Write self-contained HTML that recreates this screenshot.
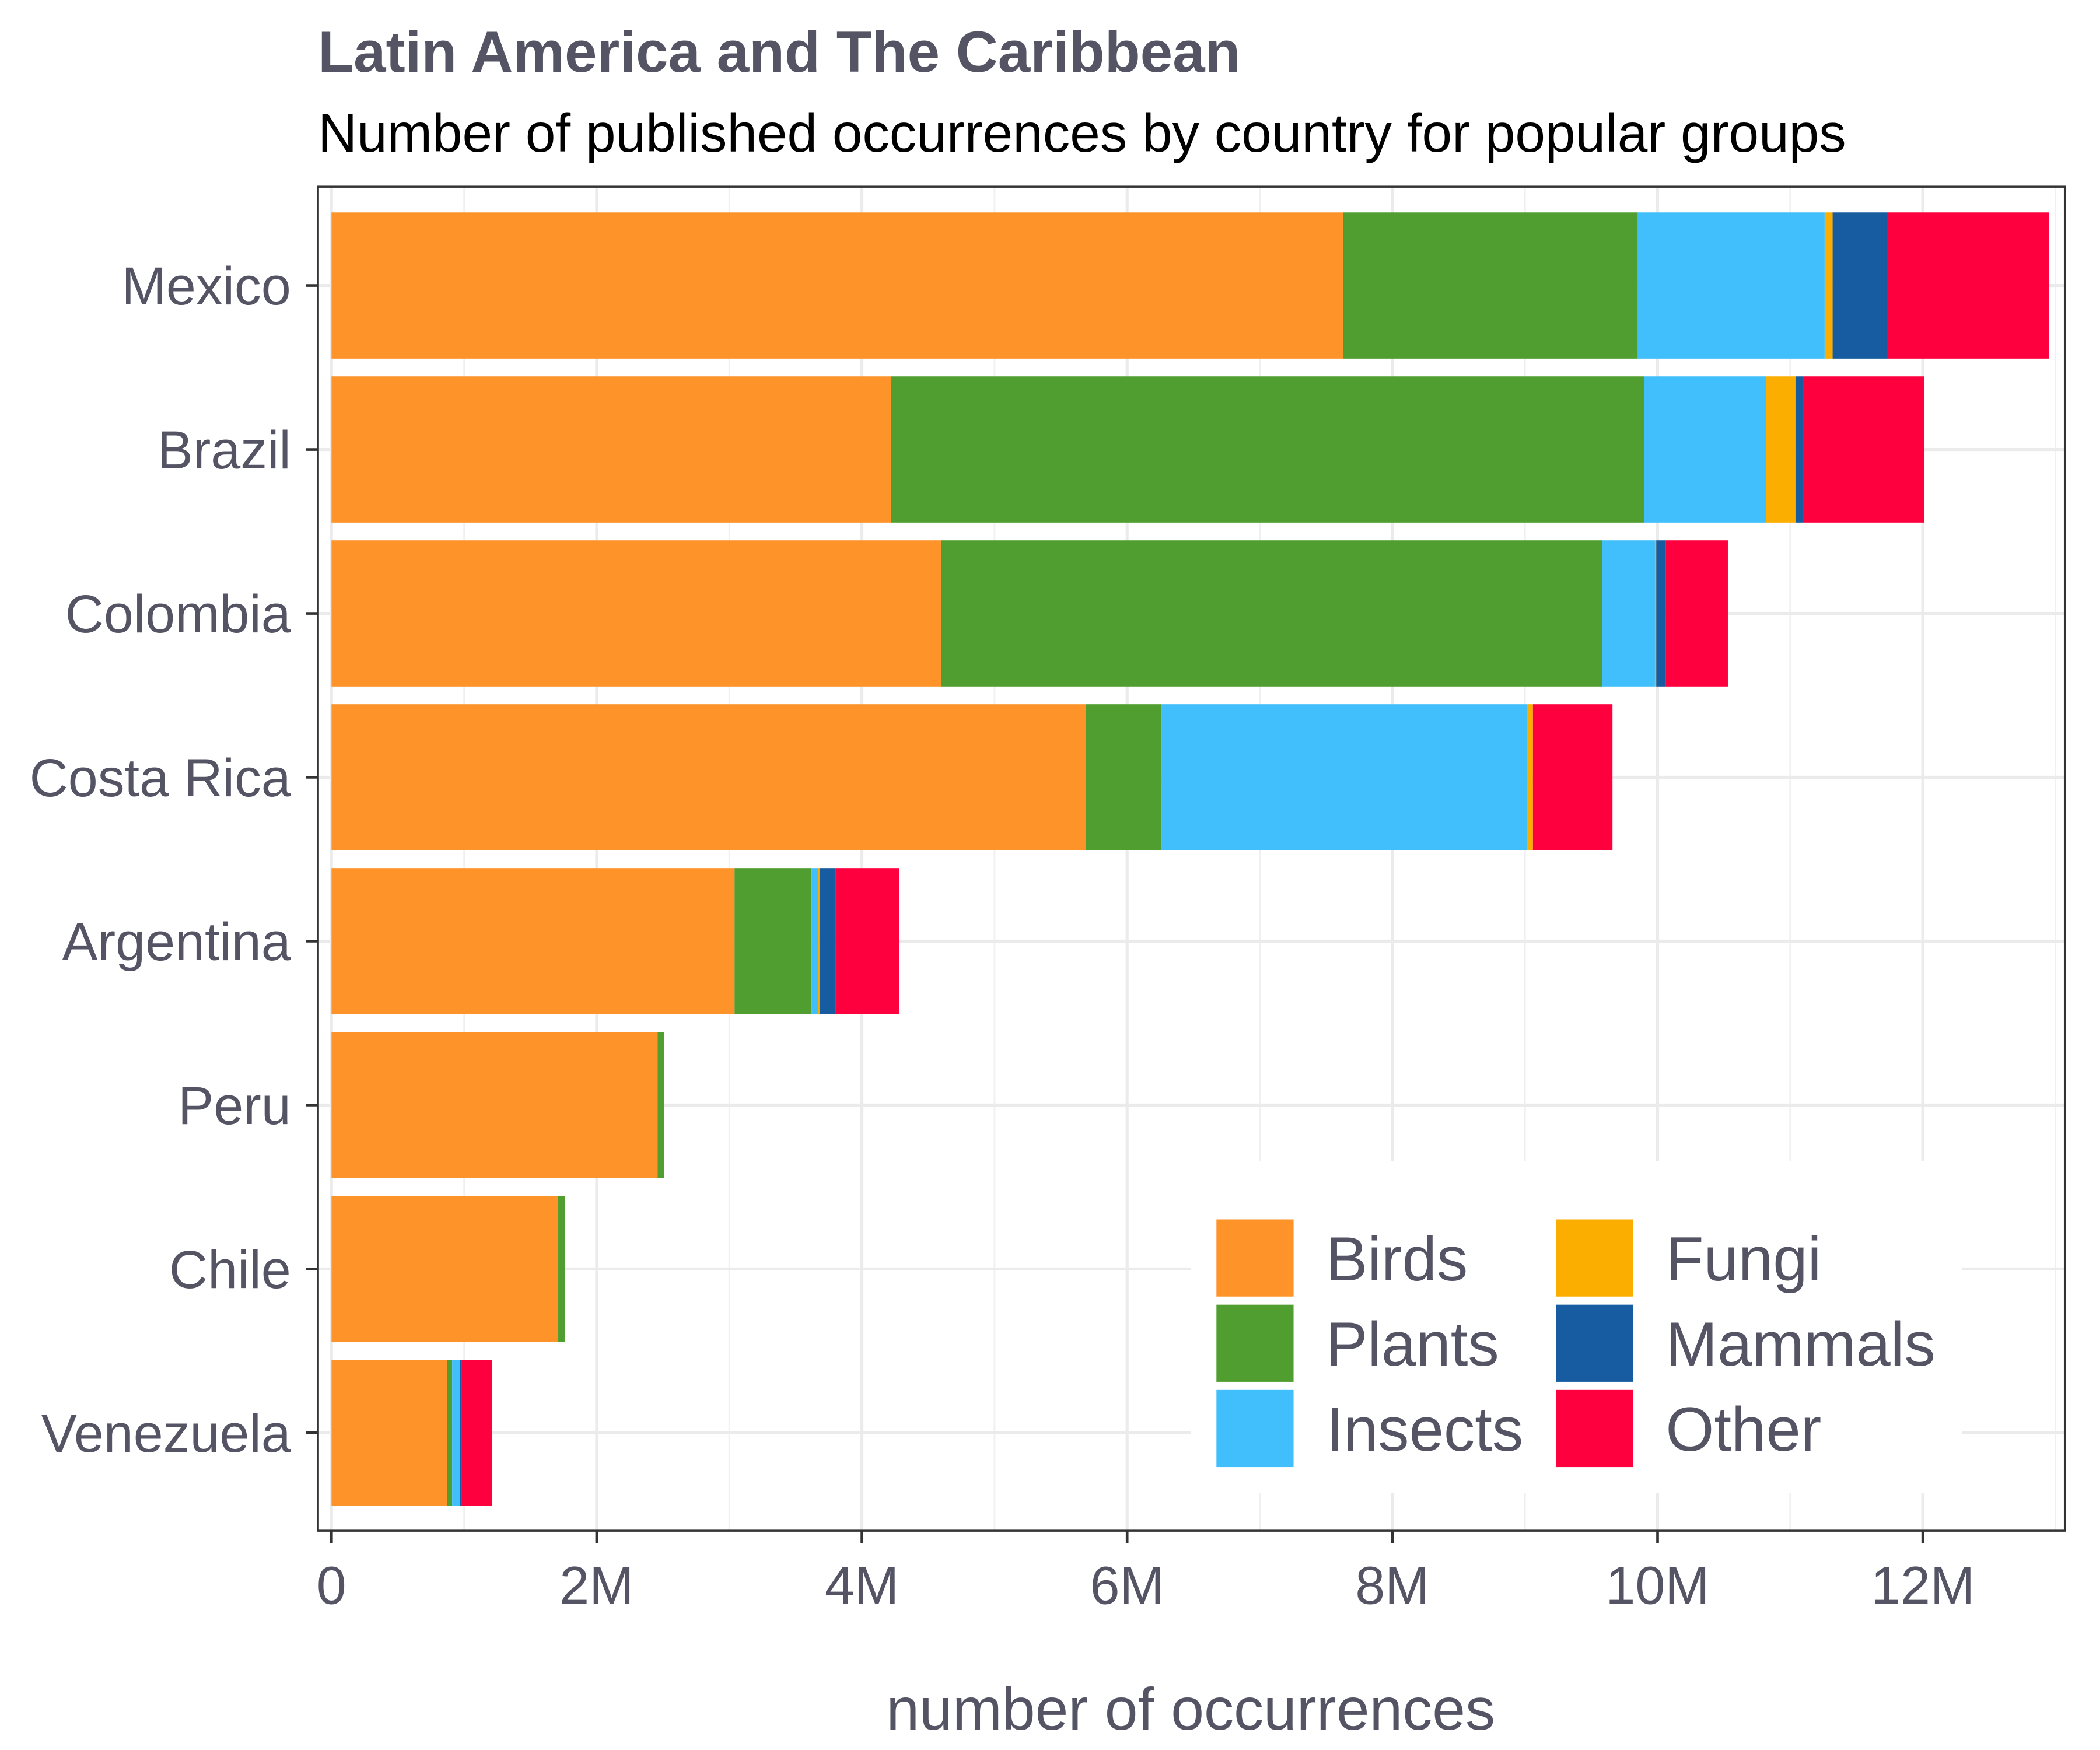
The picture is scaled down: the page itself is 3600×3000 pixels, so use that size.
<!DOCTYPE html>
<html><head><meta charset="utf-8"><style>html,body{margin:0;padding:0;background:#fff}svg{display:block}</style></head>
<body>
<svg id="chart" width="3600" height="3000" viewBox="0 0 1552 1293" preserveAspectRatio="none" xmlns="http://www.w3.org/2000/svg" font-family="Liberation Sans, Arial, sans-serif">
<text x="235" y="53" font-size="43" font-weight="bold" fill="#545465">Latin America and The Caribbean</text>
<text x="235" y="112" font-size="40" fill="#000">Number of published occurrences by country for popular groups</text>
<g id="grid"></g>
<g id="bars"></g>
<rect x="235" y="138" width="1291" height="993" fill="none" stroke="#333" stroke-width="1.5"/>
<g id="axes"></g>
<text x="880" y="1278" font-size="44" fill="#545465" text-anchor="middle">number of occurrences</text>
<g id="legend"></g>
</svg>
<script>
const countries = ["Mexico","Brazil","Colombia","Costa Rica","Argentina","Peru","Chile","Venezuela"];
const groups = ["Birds","Plants","Insects","Fungi","Mammals","Other"];
const birds   = [7.63, 4.22, 4.60, 5.69, 3.04, 2.46, 1.71, 0.87];
const plants  = [2.22, 5.68, 4.98, 0.57, 0.58, 0.05, 0.05, 0.04];
const insects = [1.41, 0.92, 0.40, 2.76, 0.05, 0.00, 0.00, 0.06];
const fungi   = [0.06, 0.22, 0.01, 0.04, 0.01, 0.00, 0.00, 0.00];
const mammals = [0.41, 0.06, 0.07, 0.00, 0.12, 0.00, 0.00, 0.01];
const other   = [1.22, 0.91, 0.47, 0.60, 0.48, 0.00, 0.00, 0.23];
const xTicks = [0, 2, 4, 6, 8, 10, 12];
const xTickLabels = ["0","2M","4M","6M","8M","10M","12M"];
const colors = ["#fe9329","#509e2f","#40bffc","#fbad00","#175ca1","#ff003f"];
const series = [birds, plants, insects, fungi, mammals, other];

const NS = "http://www.w3.org/2000/svg";
const X0 = 245, PXM = 98, Y0 = 211, STEP = 121.1, BH = 108;
const PL = 235, PR = 1526, PT = 138, PB = 1131;
const xs = v => X0 + v * PXM;
const ys = i => Y0 + i * STEP;
function mk(tag, attrs, parent) {
  const e = document.createElementNS(NS, tag);
  for (const k in attrs) e.setAttribute(k, attrs[k]);
  parent.appendChild(e);
  return e;
}
const grid = document.getElementById("grid");
for (let m = 1; m <= 13; m += 2) {
  const l = mk("line", {x1: xs(m), x2: xs(m), y1: PT, y2: PB, stroke: "#f0f0f0", "stroke-width": 1.2}, grid);
  
  
}
xTicks.forEach(t => {
  const l = mk("line", {x1: xs(t), x2: xs(t), y1: PT, y2: PB, stroke: "#ebebeb", "stroke-width": 2.2}, grid);
  
  
});
countries.forEach((c, i) => {
  const l = mk("line", {x1: PL, x2: PR, y1: ys(i), y2: ys(i), stroke: "#ebebeb", "stroke-width": 2.2}, grid);
  
  
});
const bars = document.getElementById("bars");
countries.forEach((c, i) => {
  let acc = 0;
  series.forEach((s, k) => {
    const v = s[i];
    if (v > 0) {
      const r = mk("rect", {x: xs(acc), y: ys(i) - BH / 2, width: xs(acc + v) - xs(acc), height: BH, fill: colors[k]}, bars);
      
      
    }
    acc += v;
  });
});
const axes = document.getElementById("axes");
countries.forEach((c, i) => {
  const t = mk("line", {x1: PL - 9, x2: PL, y1: ys(i), y2: ys(i), stroke: "#333", "stroke-width": 2}, axes);
  
  
  const lb = mk("text", {x: 215, y: ys(i) + 14, "font-size": 39.5, fill: "#545465", "text-anchor": "end"}, axes);
  lb.textContent = c;
  
  
});
xTicks.forEach((t, i) => {
  const l = mk("line", {x1: xs(t), x2: xs(t), y1: PB, y2: PB + 9, stroke: "#333", "stroke-width": 2}, axes);
  
  
  const lb = mk("text", {x: xs(t), y: PB + 54, "font-size": 39.5, fill: "#545465", "text-anchor": "middle"}, axes);
  lb.textContent = xTickLabels[i];
  
  
});
const leg = document.getElementById("legend");
const bg = mk("rect", {x: 880, y: 858, width: 570, height: 245, fill: "#fff"}, leg);


groups.forEach((g, k) => {
  const col = Math.floor(k / 3), row = k % 3;
  const sx = col ? 1150 : 899, sy = 901 + row * 63;
  const sw = mk("rect", {x: sx, y: sy, width: 57, height: 57, fill: colors[k]}, leg);
  
  
  const tx = mk("text", {x: sx + 81, y: sy + 45, "font-size": 46, fill: "#545465"}, leg);
  tx.textContent = g;
  
  
});
</script>
</body></html>
